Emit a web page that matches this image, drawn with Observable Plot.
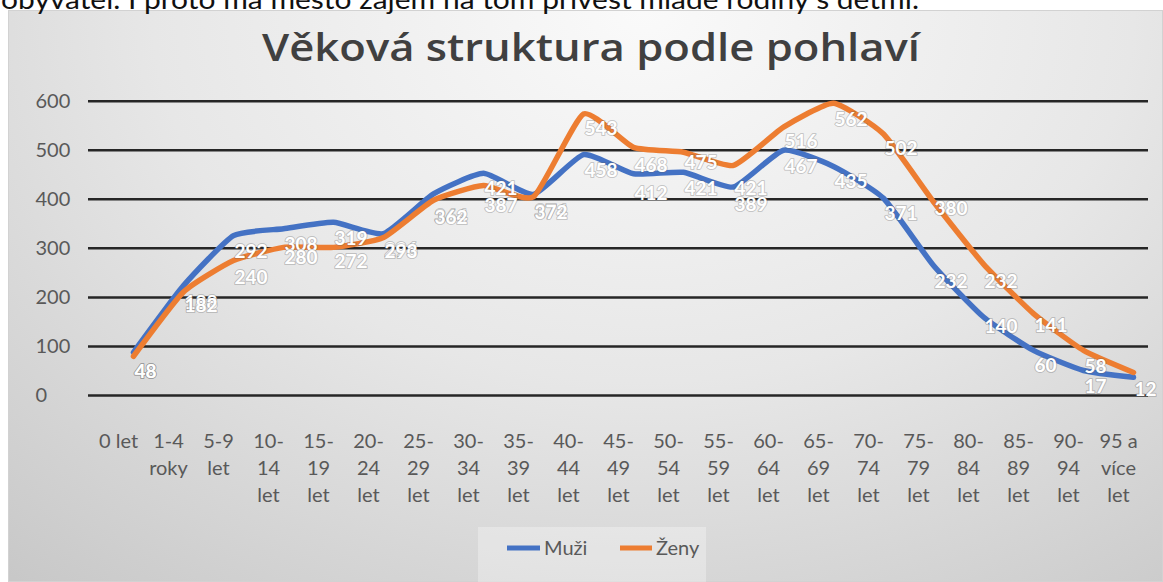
<!DOCTYPE html>
<html><head><meta charset="utf-8">
<script src="https://cdn.jsdelivr.net/npm/d3@7"></script>
<script src="https://cdn.jsdelivr.net/npm/@observablehq/plot@0.6"></script>
<style>
html,body{margin:0;padding:0;background:#fff;width:1163px;height:582px;overflow:hidden;font-family:Lato,"Noto Sans",sans-serif}
#bg{position:absolute;left:8px;top:10px;width:1155px;height:572px;border:1px solid #d2d2d2;box-sizing:border-box;
background:radial-gradient(ellipse 85% 130% at 55% 0%, #fafafa 0%, #e7e7e7 50%, #c8c8c8 100%);}
#legendbox{position:absolute;left:478px;top:527px;width:228px;height:55px;background:rgba(255,255,255,0.3)}
#chart{position:absolute;left:0;top:0}
#deco{position:absolute;left:0;top:0}
</style></head><body>
<div id="bg"></div>
<div id="legendbox"></div>
<svg id="deco" width="1163" height="582" xmlns="http://www.w3.org/2000/svg">
  <text x="1" y="9" font-family="Lato, sans-serif" font-size="26" fill="#111" textLength="918" lengthAdjust="spacingAndGlyphs">obyvatel. I proto má město zájem na tom přivést mladé rodiny s dětmi.</text>
  <text x="262" y="61" font-family="'Open Sans', sans-serif" font-weight="600" font-size="38" fill="#404040" textLength="658" lengthAdjust="spacingAndGlyphs">Věková struktura podle pohlaví</text>
  <line x1="507" x2="540" y1="548" y2="548" stroke="#4472C4" stroke-width="5"/>
  <text x="544" y="555" font-family="Lato, sans-serif" font-size="20" fill="#595959">Muži</text>
  <line x1="620" x2="652" y1="548" y2="548" stroke="#ED7D31" stroke-width="5"/>
  <text x="656" y="555" font-family="Lato, sans-serif" font-size="20" fill="#595959">Ženy</text>
</svg>
<div id="chart"></div>
<script>
const ageGroups = ["0 let","1-4\nroky","5-9\nlet","10-\n14\nlet","15-\n19\nlet","20-\n24\nlet","25-\n29\nlet","30-\n34\nlet","35-\n39\nlet","40-\n44\nlet","45-\n49\nlet","50-\n54\nlet","55-\n59\nlet","60-\n64\nlet","65-\n69\nlet","70-\n74\nlet","75-\n79\nlet","80-\n84\nlet","85-\n89\nlet","90-\n94\nlet","95 a\nvíce\nlet"];
const muzi = [88, 224, 326, 340, 353, 330, 411, 453, 410, 491, 452, 455, 425, 500, 467, 402, 265, 160, 92, 51, 37];
const zeny = [80, 211, 275, 302, 302, 322, 398, 428, 405, 574, 506, 496, 469, 547, 596, 533, 395, 268, 167, 92, 47];
const labelsUpper = [48, 188, 292, 308, 319, 296, 364, 421, 374, 543, 468, 475, 421, 516, 562, 502, 380, 232, 141, 58, null];
const labelsLower = [48, 182, 240, 280, 272, 293, 362, 387, 372, 458, 412, 421, 389, 467, 435, 371, 232, 140, 60, 17, 12];
const yTicks = [0, 100, 200, 300, 400, 500, 600];

const rows = ageGroups.map((a, i) => ({age: a, muzi: muzi[i], zeny: zeny[i]}));
const labelRows = [];
ageGroups.forEach((a, i) => {
  if (labelsUpper[i] != null) labelRows.push({age: a, value: labelsUpper[i]});
  if (labelsLower[i] != null) labelRows.push({age: a, value: labelsLower[i]});
});

const chart = Plot.plot({
  width: 1163, height: 582,
  marginTop: 100.7, marginBottom: 187, marginLeft: 88, marginRight: 15,
  style: {background: "transparent", fontFamily: "Lato, sans-serif", overflow: "visible"},
  x: {type: "point", domain: ageGroups, range: [128, 1137], padding: 0, axis: null},
  y: {domain: [0, 600], axis: null},
  marks: [
    Plot.ruleY(yTicks, {stroke: "#262626", strokeWidth: 2.5}),
    Plot.text(yTicks, {y: d => d, text: d => String(d), frameAnchor: "left", textAnchor: "start", dx: -53, fontSize: 20, fill: "#595959"}),
    Plot.text(ageGroups, {x: d => d, text: d => d, frameAnchor: "bottom", lineAnchor: "top", dy: 34, dx: -15, fontSize: 20, lineHeight: 1.33, fill: "#595959"}),
    Plot.line(rows, {x: "age", y: "muzi", stroke: "#4472C4", strokeWidth: 5.5, curve: "cardinal", tension: 0.5, strokeLinecap: "round", strokeLinejoin: "round"}),
    Plot.line(rows, {x: "age", y: "zeny", stroke: "#ED7D31", strokeWidth: 5.5, curve: "cardinal", tension: 0.5, strokeLinecap: "round", strokeLinejoin: "round"}),
    Plot.text(labelRows, {x: "age", y: "value", text: d => String(d.value), textAnchor: "start", dx: 1, fill: "white", fontWeight: 700, fontSize: 19, stroke: "rgba(90,90,90,0.3)", strokeWidth: 2})
  ]
});
document.getElementById("chart").appendChild(chart);
</script>
</body></html>
